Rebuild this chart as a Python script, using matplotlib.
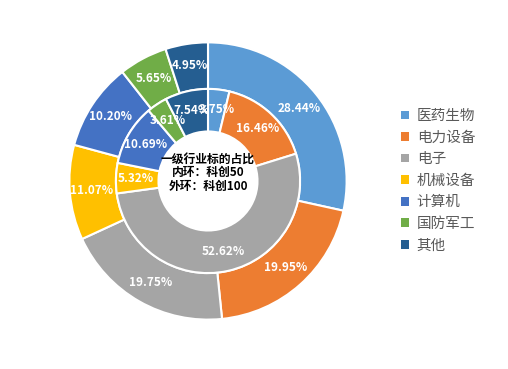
import matplotlib
matplotlib.use("Agg")
import matplotlib.pyplot as plt
from matplotlib.patches import Patch
import numpy as np

plt.rcParams['font.family'] = ['Noto Sans CJK SC', 'DejaVu Sans']

industries = ["医药生物", "电力设备", "电子", "机械设备", "计算机", "国防军工", "其他"]
inner_vals = [3.75, 16.46, 52.62, 5.32, 10.69, 3.61, 7.54]     # 科创50
outer_vals = [28.44, 19.95, 19.75, 11.07, 10.20, 5.65, 4.95]   # 科创100
colors = ["#5B9BD5", "#ED7D31", "#A5A5A5", "#FFC000", "#4472C4", "#70AD47", "#255E91"]

fig = plt.figure(figsize=(5.08, 3.69), dpi=100)
ax = fig.add_axes([68 / 508, 48 / 369, 280 / 508, 280 / 369])

r_out = 1.0
r_mid = 93 / 140
r_hole = 50 / 140
wp = dict(edgecolor="white", linewidth=1.5)

outer, _ = ax.pie(outer_vals, radius=r_out, colors=colors, startangle=90,
                  counterclock=False, wedgeprops=dict(width=r_out - r_mid, **wp))
inner, _ = ax.pie(inner_vals, radius=r_mid, colors=colors, startangle=90,
                  counterclock=False, wedgeprops=dict(width=r_mid - r_hole, **wp))


def put_labels(wedges, vals, r):
    for w, v in zip(wedges, vals):
        a = np.deg2rad((w.theta1 + w.theta2) / 2)
        ax.text(r * np.cos(a), r * np.sin(a), f"{v:.2f}%", ha="center", va="center",
                color="white", fontsize=8.5, fontweight="bold")


put_labels(outer, outer_vals, 0.84)
put_labels(inner, inner_vals, 0.52)

ax.text(0, 0.06, "一级行业标的占比\n内环：科创50\n外环：科创100", ha="center", va="center",
        fontsize=8.5, fontweight="bold", color="black", linespacing=1.05)

ax.set_xlim(-1.01, 1.01)
ax.set_ylim(-1.01, 1.01)
ax.set_aspect("equal")
ax.axis("off")

handles = [Patch(facecolor=c, edgecolor="none") for c in colors]
leg = fig.legend(handles, industries, loc="center left", bbox_to_anchor=(0.763, 0.51),
                 frameon=False, fontsize=10.5, handlelength=0.55, handleheight=0.55,
                 handletextpad=0.55, labelspacing=0.52)
for t in leg.get_texts():
    t.set_color("#595959")

fig.savefig("out.png", dpi=100)
